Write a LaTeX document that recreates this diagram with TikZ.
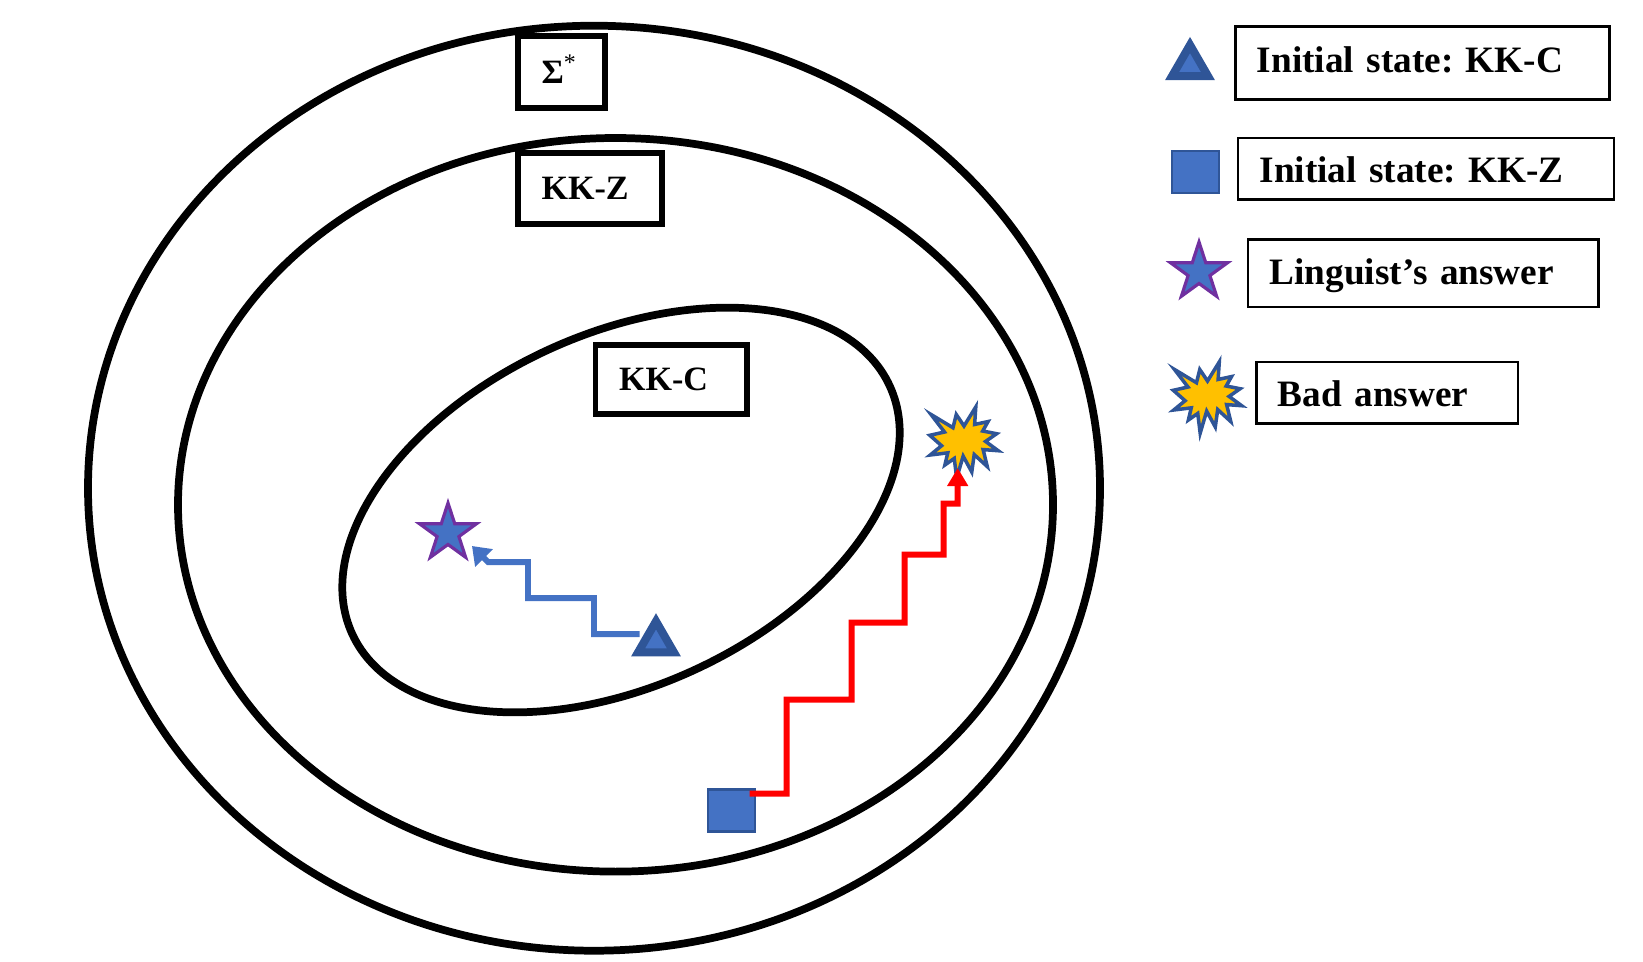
\documentclass[tikz,border=0pt]{standalone}
\usepackage{fontspec}
\setmainfont{Liberation Serif}
\usetikzlibrary{shapes.geometric,arrows.meta,calc}
\frenchspacing

\definecolor{fillblue}{HTML}{4472C4}
\definecolor{darkblue}{HTML}{2F5597}
\definecolor{starpurple}{HTML}{7030A0}
\definecolor{burstgold}{HTML}{FFC000}
\definecolor{stepred}{HTML}{FF0000}

\tikzset{
  setline/.style={draw=black, line width=2.2pt},
  regionbox/.style={draw=black, line width=1.7pt, fill=white, inner xsep=0.235cm, inner ysep=0pt,
    align=left, font=\fontsize{9.7}{11}\selectfont\bfseries, text height=0.226cm, text depth=0cm},
  legendbox/.style={draw=black, line width=0.75pt, fill=white, inner xsep=0.215cm, inner ysep=0pt,
    align=left, font=\fontsize{10.6}{12}\selectfont\bfseries, text height=0.2cm, text depth=0cm},
  trimark/.style={regular polygon, regular polygon sides=3, minimum size=0.414cm, inner sep=0pt,
    fill=fillblue, draw=darkblue, line width=2.3pt},
  sqmark/.style={rectangle, minimum width=0.47cm, minimum height=0.42cm, inner sep=0pt,
    fill=fillblue, draw=darkblue, line width=0.6pt},
  starmark/.style={star, star points=5, star point ratio=2.618, minimum size=0.6cm, inner sep=0pt,
    fill=fillblue, draw=starpurple, line width=0.9pt},
  pics/burst/.style={code={
    \draw[fill=burstgold, draw=darkblue, line width=1pt, line join=miter, scale=0.95]
      (0,0.1736) -- (0.1241,0.375) -- (0.1118,0.1901) -- (0.2527,0.2202) -- (0.1967,0.1210)
      -- (0.3432,0.0925) -- (0.2269,0.0113) -- (0.36,-0.0865) -- (0.2012,-0.0744)
      -- (0.2448,-0.2533) -- (0.1073,-0.1270) -- (0.0816,-0.3103) -- (-0.0089,-0.1436)
      -- (-0.0772,-0.375) -- (-0.1028,-0.1676) -- (-0.2013,-0.2367) -- (-0.1711,-0.1089)
      -- (-0.3555,-0.1315) -- (-0.2359,-0.0339) -- (-0.36,0.0759) -- (-0.2058,0.1105)
      -- (-0.3477,0.2953) -- (-0.1163,0.1556) -- (-0.0816,0.2953) -- cycle;
  }},
  bluestep/.style={draw=fillblue, line width=1.7pt, -{Triangle[length=0.17cm,width=0.24cm]}},
  redstep/.style={draw=stepred, line width=1.7pt, -{Triangle[length=0.18cm,width=0.2cm]}},
}

\begin{document}
\begin{tikzpicture}
\useasboundingbox (0,0) rectangle (16.43,-9.61);

% nested language sets
\draw[setline] (5.94,-4.882) ellipse [x radius=5.06, y radius=4.625];
\draw[setline] (6.155,-5.048) ellipse [x radius=4.375, y radius=3.668];
\draw[setline, rotate around={24.8:(6.21,-5.10)}] (6.21,-5.10) ellipse [x radius=2.96, y radius=1.76];

% set labels
\node[regionbox, text width=0.396cm, minimum height=0.72cm] (lblSigma) at (5.615,-0.717) {Σ\textsuperscript{\normalfont *}};
\node[regionbox, text width=0.97cm, minimum height=0.707cm] (lblZ) at (5.90,-1.883) {KK-Z};
\node[regionbox, text width=1.04cm, minimum height=0.69cm] (lblC) at (6.71,-3.792) {KK-C};

% markers inside the sets
\node[trimark] (triMain) at (6.56,-6.42) {};
\node[starmark] (starMain) at (4.48,-5.33) {};
\node[sqmark] (sqMain) at (7.317,-8.105) {};
\coordinate (burstMain) at (9.64,-4.425);
\pic at (burstMain) {burst};

% search paths
\draw[bluestep] ($(triMain)+(-0.165,0.08)$) -- ++(-0.455,0) -- ++(0,0.36) -- ++(-0.66,0)
  -- ++(0,0.36) -- ++(-0.40,0) -- ($(starMain)+(0.24,-0.13)$);
\draw[redstep] ($(sqMain)+(0.18,0.17)$) -- ++(0.37,0) -- ++(0,0.94) -- ++(0.65,0) -- ++(0,0.77)
  -- ++(0.53,0) -- ++(0,0.68) -- ++(0.39,0) -- ++(0,0.51) -- ++(0.14,0)
  -- ($(burstMain)+(-0.063,-0.255)$);

% legend
\node[trimark] (triKey) at (11.90,-0.657) {};
\node[legendbox, text width=3.313cm, minimum height=0.73cm] (keyC) at (14.225,-0.629) {Initial state: KK-C};
\node[sqmark] (sqKey) at (11.953,-1.72) {};
\node[legendbox, text width=3.33cm, minimum height=0.616cm, text height=0.27cm] (keyZ) at (14.26,-1.689) {Initial state: KK-Z};
\node[starmark] (starKey) at (11.99,-2.72) {};
\node[legendbox, text width=3.076cm, minimum height=0.673cm, text height=0.23cm] (keyLing) at (14.2335,-2.733) {Linguist’s answer};
\coordinate (burstKey) at (12.075,-3.975);
\pic at (burstKey) {burst};
\node[legendbox, text width=2.186cm, minimum height=0.616cm, text height=0.28cm] (keyBad) at (13.872,-3.929) {Bad answer};
\end{tikzpicture}
\end{document}
